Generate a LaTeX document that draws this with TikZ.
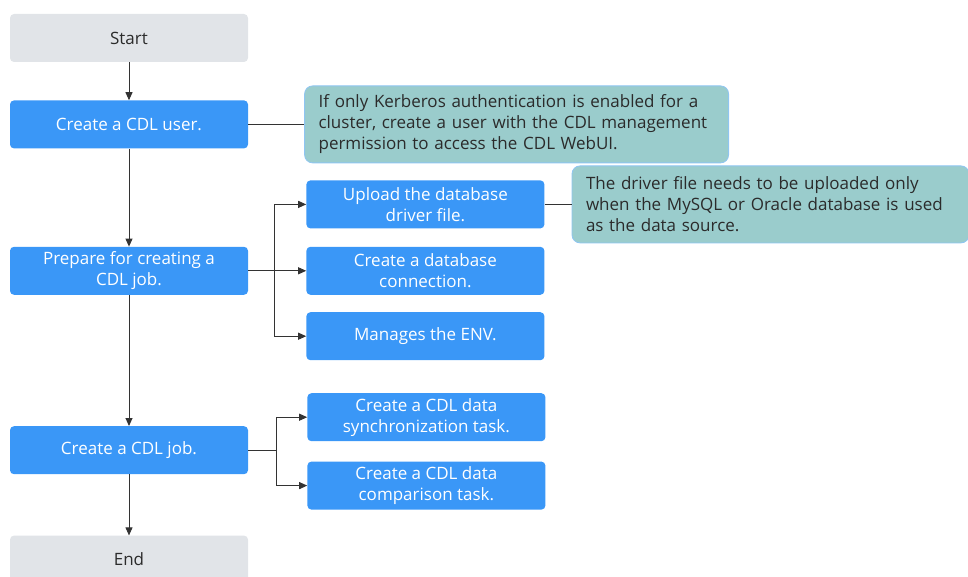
\documentclass[tikz,border=0pt]{standalone}
\usepackage{fontspec}
\setmainfont{Open Sans}
\usetikzlibrary{arrows.meta,positioning}
\definecolor{stepblue}{HTML}{3A97F7}
\definecolor{termgray}{HTML}{E1E4E8}
\definecolor{notefill}{HTML}{9ACCCC}
\definecolor{noteedge}{HTML}{8FC5F2}
\definecolor{textgray}{HTML}{2B2B2B}
\definecolor{linegray}{HTML}{333333}

\begin{document}
\begin{tikzpicture}[
    x=1pt, y=-1pt,
    node distance=38pt and 58pt,
    term/.style={rectangle, fill=termgray, rounded corners=4pt, align=center, minimum height=48pt, minimum width=238pt, text=textgray, font=\fontsize{17}{21}\selectfont},
    task/.style={rectangle, fill=stepblue, rounded corners=4pt, align=center, minimum height=48pt, minimum width=238pt, text=white, font=\fontsize{17}{21}\selectfont},
    note/.style={rectangle, draw=noteedge, fill=notefill, thick, rounded corners=8pt, align=left, minimum height=77pt, inner xsep=14pt, text=textgray, font=\fontsize{17}{21}\selectfont},
    arr/.style={-{Triangle[length=8pt,width=7pt]}, line width=0.9pt, draw=linegray},
    ln/.style={line width=0.9pt, draw=linegray}
]
    \useasboundingbox (0,0) rectangle (968,577);

    % main column
    \node [term] (start) at (129,38) {Start};
    \node [task, below=38pt of start] (user) {Create a CDL user.};
    \node [task, below=98pt of user] (prepare) {Prepare for creating a\\CDL job.};
    \node [task, below=131pt of prepare] (job) {Create a CDL job.};
    \node [term, below=61pt of job] (end) {End};

    % side steps
    \node [task, right=58pt of prepare] (conn) {Create a database\\connection.};
    \node [task, above=18pt of conn] (upload) {Upload the database\\driver file.};
    \node [task, below=17pt of conn] (env) {Manages the ENV.};
    \node [task, right=59pt of job, yshift=33pt] (sync) {Create a CDL data\\synchronization task.};
    \node [task, below=20pt of sync] (comp) {Create a CDL data\\comparison task.};

    % notes
    \node [note, text width=396pt, right=56pt of user] (note1) {If only Kerberos authentication is enabled for a\\cluster, create a user with the CDL management\\permission to access the CDL WebUI.};
    \node [note, text width=369pt, right=27pt of upload] (note2) {The driver file needs to be uploaded only\\when the MySQL or Oracle database is used\\as the data source.};

    \coordinate [right=26pt of prepare.east] (pb);
    \coordinate [right=28pt of job.east] (jb);

    \draw [arr] (start) -- (user);
    \draw [arr] (user) -- (prepare);
    \draw [arr] (prepare) -- (job);
    \draw [arr] (job) -- (end);

    \draw [arr] (prepare) -- (conn);
    \draw [arr] (pb) |- (upload);
    \draw [arr] (pb) |- (env);

    \draw [ln] (job) -- (jb);
    \draw [arr] (jb) |- (sync);
    \draw [arr] (jb) |- (comp);

    \draw [ln] (user) -- (note1);
    \draw [ln] (upload) -- (note2);
\end{tikzpicture}
\end{document}
